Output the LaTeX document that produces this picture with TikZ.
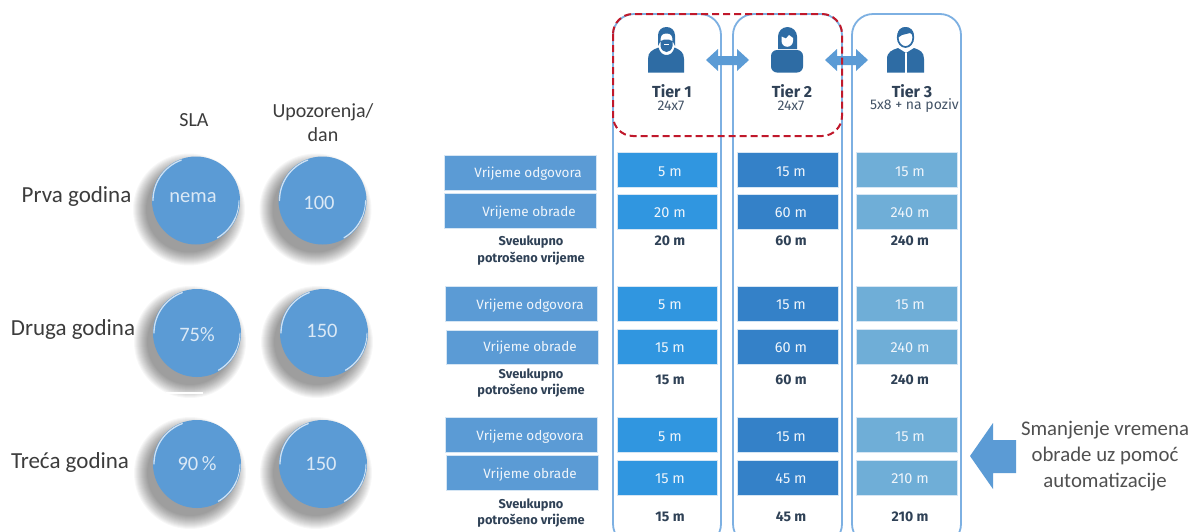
\documentclass[tikz,border=0pt]{standalone}
\usepackage{fontspec}
\setmainfont{Carlito}
\newfontfamily\barfont{Fira Sans}
\definecolor{lblue}{HTML}{5B9BD5}
\definecolor{colone}{HTML}{3096E0}
\definecolor{coltwo}{HTML}{3481C8}
\definecolor{colthree}{HTML}{6FAED7}
\definecolor{iconc}{HTML}{2E6CA4}
\definecolor{edgec}{HTML}{7DB0E2}
\definecolor{darktxt}{HTML}{2F4156}
\definecolor{graytxt}{HTML}{3C3C3C}
\definecolor{redd}{HTML}{C0182B}
\tikzset{
  x=1pt,y=-1pt,
  column/.style={draw=edgec,line width=1.8pt,rounded corners=21pt,fill=none},
  barbox/.style={draw=white!75!lblue,line width=0.5pt,minimum height=#1,inner sep=0pt,anchor=north west},
  bartxt/.style={text=white!90!lblue,font=\barfont\fontsize{13.5}{14}\selectfont,inner sep=0pt},
  valtxt/.style={text=white!90!lblue,font=\barfont\fontsize{14.5}{15}\selectfont,inner sep=0pt},
  lab/.style={text=graytxt,font=\fontsize{20}{24}\selectfont,align=center,inner sep=0pt},
  yearlab/.style={text=graytxt,font=\fontsize{23}{26}\selectfont,inner sep=0pt},
  ball/.style={circle,fill=lblue,minimum size=88pt,inner sep=0pt},
  balltxt/.style={text=white!78!lblue,font=\fontsize{20.5}{24}\selectfont,inner sep=0pt},
  sumtxt/.style={text=darktxt,font=\barfont\bfseries\fontsize{12.8}{16.5}\selectfont,align=center,inner sep=0pt},
  sumval/.style={text=darktxt,font=\barfont\bfseries\fontsize{14}{15}\selectfont,inner sep=0pt},
  tiertxt/.style={text=darktxt,font=\barfont\bfseries\fontsize{16}{17}\selectfont,inner sep=0pt},
  subtxt/.style={text=darktxt!90!white,font=\barfont\fontsize{14}{15}\selectfont,inner sep=0pt},
  icon/.style={fill=iconc,draw=none},
  bigarrow/.style={fill=lblue,draw=none},
  rim/.style={white!70!lblue,line width=1.3pt,line cap=round}
}
\newcommand{\shadowball}[3]{%
  \foreach \r in {56,55,...,43}{
    \fill[black,opacity=0.03] (#2-7,#3+9) circle[radius=\r pt];
  }
  \node[ball] (#1) at (#2,#3) {};
  \draw[rim] ([shift={(-43pt,0pt)}]#2,#3) arc[start angle=180,end angle=110,radius=43pt];
  \draw[rim] ([shift={(39.5pt,-17pt)}]#2,#3) arc[start angle=-23.3,end angle=-60,radius=43pt];
  \draw[rim,line width=0.9pt] ([shift={(43pt,0pt)}]#2,#3) arc[start angle=0,end angle=-23,radius=43pt];
}
\begin{document}
\begin{tikzpicture}
\useasboundingbox (0,0) rectangle (1195,531);
\fill[white] (0,0) rectangle (1195,531);

% left labels
\node[lab] (sla) at (194,120) {SLA};
\node[lab,text width=110pt] (upo) at (323,123) {Upozorenja/\\dan};
\node[yearlab] (y1) at (76.5,196) {Prva godina};
\node[yearlab] (y2) at (73,329) {Druga godina};
\node[yearlab] (y3) at (70,462) {Treća godina};

% balls
\shadowball{b11}{196}{200.5}
\shadowball{b12}{322.5}{200.5}
\shadowball{b21}{197}{333}
\shadowball{b22}{324}{333}
\shadowball{b31}{197}{464}
\shadowball{b32}{323}{464}
\fill[white] (166,392) rectangle (203,393.5);
\node[balltxt] (t11) at (193,198) {nema};
\node[balltxt] (t12) at (319,203) {100};
\node[balltxt] (t21) at (197,335) {75\%};
\node[balltxt] (t22) at (322,331) {150};
\node[balltxt] (t31) at (197,464) {90\,\%};
\node[balltxt] (t32) at (321,464) {150};

% columns
\draw[column] (613,14) rectangle (721,545);
\draw[column] (733,14) rectangle (842,545);
\draw[column] (852,14) rectangle (961,545);

% row labels
\foreach \nm/\xx/\yy/\hh in {l1/444/155/35,l2/444/193/35,l3/445/286/35,l4/446/330/34,l5/445/417/35,l6/446/455/35}{
  \node[barbox=\hh pt,fill=lblue,minimum width=152pt] (\nm) at (\xx,\yy) {};
}
\node[bartxt] (lt1) at (528,174) {Vrijeme odgovora};
\node[bartxt] (lt2) at (529,213) {Vrijeme obrade};
\node[bartxt] (lt3) at (530,306) {Vrijeme odgovora};
\node[bartxt] (lt4) at (530,348) {Vrijeme obrade};
\node[bartxt] (lt5) at (530,437) {Vrijeme odgovora};
\node[bartxt] (lt6) at (530,475) {Vrijeme obrade};

\node[sumtxt] (s1) at (531,250.5) {Sveukupno\\potrošeno vrijeme};
\node[sumtxt] (s2) at (531,383) {Sveukupno\\potrošeno vrijeme};
\node[sumtxt] (s3) at (531,513) {Sveukupno\\potrošeno vrijeme};

% value bars
\foreach \nm/\xx/\ww/\cc in {a/617/100/colone,b/737/101/coltwo,c/856/101/colthree}{
  \foreach \rr/\yy/\hh in {1/152/35,2/194/35,3/286/35,4/329/35,5/417/35,6/460/35}{
    \node[barbox=\hh pt,fill=\cc,minimum width=\ww pt] (\nm\rr) at (\xx,\yy) {};
  }
}
\foreach \xx/\yy/\txt in {
 670/172/5 m,791/172/15 m,910/172/15 m,
 670/213/20 m,791/213/60 m,910/213/240 m,
 670/305/5 m,791/305/15 m,910/305/15 m,
 670/348/15 m,791/348/60 m,910/348/240 m,
 670/437/5 m,791/437/15 m,910/437/15 m,
 670/479/15 m,791/479/45 m,910/479/210 m}{
  \node[valtxt] at (\xx,\yy) {\txt};
}
\foreach \xx/\yy/\txt in {
 670/241/20 m,791/241/60 m,910/241/240 m,
 670/380/15 m,791/380/60 m,910/380/240 m,
 670/517/15 m,791/517/45 m,910/517/210 m}{
  \node[sumval] at (\xx,\yy) {\txt};
}

% tier headings
\node[tiertxt] (t1) at (672,91) {Tier 1};
\node[subtxt] (d1) at (671,106) {24x7};
\node[tiertxt] (t2) at (792,91) {Tier 2};
\node[subtxt] (d2) at (791,106) {24x7};
\node[tiertxt] (t3) at (912,91) {Tier 3};
\node[subtxt] (d3) at (914.5,106) {5x8 + na poziv};

% icon 1: man with beard
\fill[icon] (648,72.5) -- (648,59) .. controls (648,52) and (652,50) .. (658.5,47.5) .. controls (660,53) and (663,55) .. (666.5,55) .. controls (670,55) and (673,53) .. (674.5,47.5) .. controls (680,50) and (684,52) .. (684,59) -- (684,72.5) -- cycle;
\fill[icon] (658,46) -- (658,35.5) .. controls (658,30) and (662,27) .. (666.5,27) .. controls (671,27) and (675,30) .. (675,35.5) -- (675,46) -- (672.5,41) -- (672.5,46) .. controls (672,50) and (669,52) .. (666.5,52) .. controls (664,52) and (661,50) .. (660.5,46) -- (660.5,41) -- cycle;
\fill[white] (660.5,41) .. controls (660.5,36) and (662,33.5) .. (666.5,33.5) .. controls (671,33.5) and (672.5,36) .. (672.5,41) -- (669,39.5) -- (664,39.5) -- cycle;
\fill[white] (664,44) rectangle (669,45.2);

% icon 2: woman
\fill[icon,rounded corners=6pt] (771,72.5) -- (771,50) -- (803,50) -- (803,72.5) -- cycle;
\fill[icon] (778,49) -- (778,36.5) arc[start angle=180,end angle=0,radius=9.5pt] -- (797,49) -- cycle;
\fill[white] (781.5,36.5) -- (786,38.5) -- (789,35) -- (793,38) -- (793,41) arc[start angle=0,end angle=-180,radius=5.75pt] -- cycle;

% icon 3: man with tie
\fill[icon] (887,72.5) -- (887,59) .. controls (887,52) and (892,50) .. (898,48) -- (906,53) -- (914,48) .. controls (920,50) and (924,52) .. (924,59) -- (924,72.5) -- cycle;
\fill[white] (905.2,53) rectangle (906.8,72.5);
\draw[iconc,line width=1.7pt] (905.5,37.5) ellipse[x radius=7.8pt,y radius=9.5pt];
\fill[icon] (897.5,38) -- (897.5,35) .. controls (897.5,30) and (901,27) .. (905.5,27) .. controls (910,27) and (914,30) .. (914,36) -- (910,33) -- (902,35) -- cycle;

% double arrows
\fill[bigarrow] (706,60) -- (718,49) -- (718,56) -- (737,56) -- (737,49) -- (749,60) -- (737,71) -- (737,65) -- (718,65) -- (718,71) -- cycle;
\fill[bigarrow] (825,60) -- (837,49) -- (837,56) -- (856,56) -- (856,49) -- (868,60) -- (856,71) -- (856,65) -- (837,65) -- (837,71) -- cycle;

% red dashed frame
\draw[redd,line width=2pt,dash pattern=on 7pt off 4pt,rounded corners=20pt] (613,14) rectangle (842,136);

% big arrow
\fill[bigarrow] (970,456) -- (993,423) -- (993,440) -- (1016,440) -- (1016,473) -- (993,473) -- (993,489) -- cycle;
\node[lab,text=graytxt!90!white,font=\fontsize{20.8}{26}\selectfont] (note) at (1105,456) {Smanjenje vremena\\obrade uz pomoć\\automatizacije};
\end{tikzpicture}
\end{document}
